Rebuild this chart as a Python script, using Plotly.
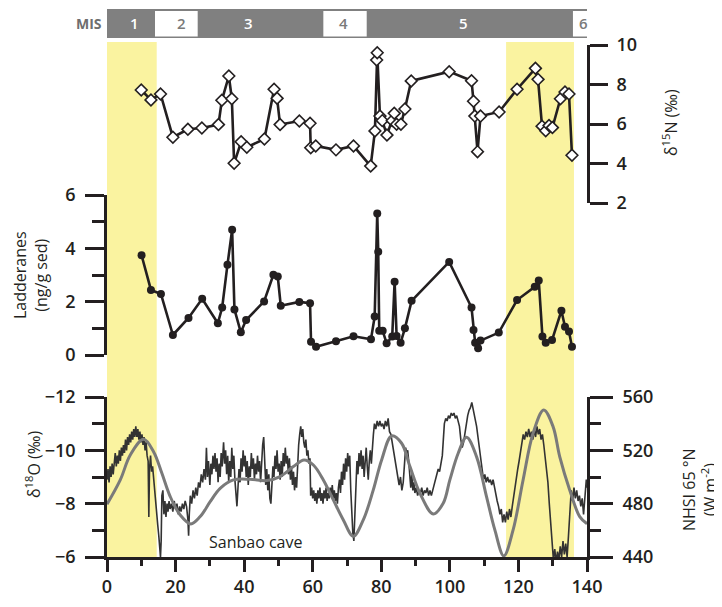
import plotly.graph_objects as go

# ---------------- data ----------------
# delta15N (top panel)
n15_age = [9.99, 12.82, 15.61, 19.22, 23.59, 27.67, 32.51, 33.50, 35.54, 36.41, 37.08, 39.12, 40.78,
           45.91, 48.73, 49.61, 50.48, 56.10, 59.22, 59.42, 60.88, 66.79, 71.9, 76.90, 78.15, 78.65,
           78.82, 79.61, 80.28, 81.65, 83.19, 83.78, 84.47, 85.73, 86.89, 88.73, 99.80, 106.32, 106.90,
           107.28, 108.07, 108.94, 114.36, 119.60, 124.96, 125.72, 126.88, 127.96, 128.92, 129.91,
           132.25, 133.58, 134.75, 135.62]
n15_val = [7.72, 7.22, 7.52, 5.33, 5.73, 5.80, 5.97, 7.20, 8.43, 7.28, 4.01, 5.10, 4.82,
           5.24, 7.76, 7.30, 5.97, 6.15, 6.04, 4.80, 4.89, 4.69, 4.89, 3.87, 5.65, 9.24,
           9.61, 6.40, 6.17, 5.44, 6.17, 6.54, 5.99, 5.99, 6.76, 8.18, 8.65, 8.19, 7.15,
           6.40, 4.60, 6.40, 6.61, 7.76, 8.82, 8.26, 5.89, 5.66, 5.92, 5.82,
           7.28, 7.62, 7.52, 4.42]

# Ladderanes (middle panel)
lad_age = [10.08, 12.82, 15.73, 19.22, 23.77, 27.76, 32.33, 33.59, 35.13, 36.50, 37.17, 39.03, 40.58,
           45.82, 48.53, 49.81, 50.68, 56.10, 59.22, 59.51, 60.97, 66.79, 71.9, 76.99, 78.07, 78.82,
           79.11, 79.40, 80.40, 81.56, 83.19, 83.89, 84.47, 85.64, 86.89, 88.84, 99.80, 106.32, 106.90,
           107.37, 108.24, 108.94, 114.27, 119.60, 124.76, 125.93, 127.00, 127.96, 129.80, 132.54,
           133.58, 134.75, 135.62]
lad_val = [3.74, 2.44, 2.29, 0.75, 1.39, 2.11, 1.19, 1.78, 3.38, 4.70, 1.71, 0.85, 1.31,
           2.01, 3.01, 2.94, 1.85, 1.99, 1.94, 0.50, 0.31, 0.52, 0.70, 0.59, 1.44, 5.31,
           3.87, 0.91, 0.91, 0.44, 0.69, 2.75, 0.71, 0.46, 1.00, 2.03, 3.49, 1.78, 0.94,
           0.46, 0.25, 0.54, 0.84, 2.06, 2.56, 2.79, 0.69, 0.46, 0.56, 1.66,
           1.06, 0.88, 0.31]

# Sanbao cave delta18O (bottom panel, left axis)
o18_age = [0.0, 0.3, 0.6, 0.9, 1.2, 1.5, 1.8, 2.1, 2.4, 2.7, 3.0, 3.3, 3.6, 3.9, 4.2, 4.5, 4.8,
           5.1, 5.4, 5.7, 6.0, 6.3, 6.6, 6.9, 7.2, 7.5, 7.8, 8.1, 8.4, 8.7, 9.0, 9.3, 9.6, 9.9,
           10.2, 10.5, 10.8, 11.1, 11.4, 11.7, 12.0, 12.2, 12.4, 12.7, 13.0, 13.3, 13.6, 13.9,
           14.2, 14.5, 14.8, 15.1, 15.4, 15.6, 15.8, 16.0, 16.3, 16.6, 16.9, 17.2, 17.5, 17.8,
           18.1, 18.4, 18.8, 19.2, 19.6, 20.0, 20.4, 20.8, 21.2, 21.6, 22.0, 22.4, 22.8, 23.2,
           23.6, 23.8, 24.0, 24.3, 24.7, 25.1, 25.5, 25.9, 26.3, 26.7, 27.1, 27.5, 27.9, 28.3,
           28.7, 29.0, 29.3, 29.6, 30.0, 30.3, 30.6, 30.9, 31.2, 31.5, 31.8, 32.1, 32.4, 32.7,
           33.0, 33.3, 33.6, 34.0, 34.3, 34.6, 34.9, 35.2, 35.5, 35.8, 36.1, 36.4, 36.7, 37.0,
           37.3, 37.6, 37.9, 38.2, 38.5, 38.8, 39.1, 39.4, 39.7, 40.0, 40.3, 40.6, 40.9, 41.2,
           41.5, 41.8, 42.1, 42.4, 42.7, 43.0, 43.3, 43.6, 43.9, 44.2, 44.5, 44.8, 45.1, 45.4,
           45.7, 46.0, 46.3, 46.6, 46.9, 47.2, 47.5, 47.8, 48.1, 48.4, 48.7, 49.0, 49.3, 49.6,
           49.9, 50.2, 50.5, 50.8, 51.1, 51.4, 51.7, 52.0, 52.3, 52.6, 52.9, 53.2, 53.5, 53.8,
           54.1, 54.4, 54.7, 55.0, 55.3, 55.6, 55.9, 56.2, 56.5, 56.8, 57.1, 57.4, 57.7, 58.0,
           58.3, 58.6, 58.9, 59.2, 59.4, 59.7, 60.0, 60.3, 60.6, 60.9, 61.2, 61.5, 61.8, 62.1,
           62.4, 62.7, 63.0, 63.3, 63.6, 63.9, 64.2, 64.5, 64.8, 65.1, 65.4, 65.7, 66.0, 66.3,
           66.6, 66.9, 67.2, 67.5, 67.8, 68.1, 68.4, 68.7, 69.0, 69.3, 69.6, 69.9, 70.2, 70.5,
           70.8, 71.1, 71.4, 71.7, 72.0, 72.3, 72.6, 72.9, 73.2, 73.5, 73.8, 74.1, 74.4, 74.7,
           75.0, 75.3, 75.6, 75.9, 76.2, 76.5, 76.8, 77.1, 77.4, 77.7, 78.0, 78.4, 78.8, 79.2,
           79.6, 80.0, 80.4, 80.8, 81.2, 81.6, 82.0, 82.4, 82.8, 83.2, 83.6, 84.0, 84.4, 84.8,
           85.2, 85.6, 86.0, 86.4, 86.8, 87.1, 87.4, 87.7, 88.0, 88.3, 88.6, 88.9, 89.2, 89.5,
           89.8, 90.2, 90.6, 91.0, 91.4, 91.8, 92.2, 92.6, 93.0, 93.4, 93.8, 94.2, 94.6, 95.0,
           95.4, 95.8, 96.2, 96.6, 97.0, 97.4, 97.8, 98.1, 98.4, 98.8, 99.2, 99.6, 100.0, 100.4,
           100.8, 101.2, 101.6, 102.0, 102.4, 102.8, 103.2, 103.6, 104.0, 104.4, 104.8, 105.2,
           105.6, 106.0, 106.4, 106.7, 107.0, 107.4, 107.8, 108.2, 108.6, 109.0, 109.4, 109.8,
           110.2, 110.6, 111.0, 111.4, 111.8, 112.2, 112.6, 113.0, 113.4, 113.8, 114.2, 114.6,
           115.0, 115.4, 115.8, 116.2, 116.6, 117.0, 117.4, 117.8, 118.2, 118.6, 119.0, 119.4,
           119.8, 120.2, 120.6, 121.0, 121.4, 121.8, 122.2, 122.6, 123.0, 123.4, 123.8, 124.2,
           124.6, 125.0, 125.4, 125.8, 126.2, 126.6, 127.0, 127.4, 127.8, 128.2, 128.6, 129.0,
           129.4, 129.8, 130.2, 130.6, 131.0, 131.4, 131.8, 132.2, 132.6, 133.0, 133.4, 133.8,
           134.2, 134.6, 135.0, 135.4, 135.8, 136.2, 136.6, 137.0, 137.4, 137.8, 138.2, 138.6,
           139.0, 139.4, 139.8, 140.0]
o18_val = [-8.9, -9.3, -8.8, -9.4, -9.0, -9.5, -9.1, -9.7, -9.9, -9.4, -9.8, -9.5, -10.0, -9.6, -10.1, -9.8, -10.2,
           -9.9, -10.4, -10.0, -10.5, -10.2, -10.6, -10.3, -10.7, -10.4, -10.8, -10.5, -10.9, -10.5, -10.8, -10.4, -10.7, -10.3,
           -10.6, -10.2, -10.5, -10.0, -10.3, -9.8, -9.6, -7.5, -9.3, -9.8, -9.2, -9.4, -8.9, -8.6,
           -8.0, -7.6, -7.2, -6.8, -6.3, -6.0, -6.6, -8.3, -8.5, -7.6, -8.1, -7.5, -8.0, -7.7,
           -8.1, -7.8, -8.0, -7.7, -8.1, -7.8, -8.0, -7.6, -7.9, -7.7, -8.0, -7.8, -8.1, -7.9,
           -7.4, -6.8, -7.6, -8.3, -8.0, -8.5, -8.2, -8.6, -8.3, -8.8, -8.6, -9.1, -8.8, -9.3,
           -8.9, -10.1, -9.0, -9.6, -8.7, -9.5, -9.1, -9.8, -9.3, -9.9, -9.2, -9.7, -8.8, -9.5,
           -9.0, -9.9, -9.4, -10.3, -9.5, -10.0, -9.1, -9.8, -8.8, -9.6, -9.0, -10.1, -9.3, -9.8,
           -8.9, -8.4, -7.9, -8.6, -9.3, -8.8, -9.7, -9.2, -10.0, -9.4, -9.8, -9.0, -9.6, -8.7,
           -9.4, -9.0, -9.9, -9.3, -9.7, -8.9, -9.5, -9.1, -9.8, -9.2, -9.6, -8.8, -9.7, -10.2,
           -10.5, -9.6, -8.7, -9.3, -8.5, -9.1, -8.2, -8.0, -8.6, -9.4, -9.0, -9.8, -9.3, -10.0,
           -9.2, -9.5, -8.9, -9.6, -9.0, -9.9, -9.4, -10.1, -9.5, -9.8, -9.1, -9.7, -8.9, -9.4,
           -8.7, -9.2, -8.5, -9.0, -8.6, -9.5, -10.2, -10.6, -10.9, -10.5, -10.8, -10.3, -10.1, -10.4,
           -9.8, -10.0, -9.5, -9.7, -8.3, -8.6, -8.2, -8.5, -8.1, -8.4, -8.0, -8.5, -8.2, -8.6,
           -8.1, -8.4, -8.0, -8.5, -8.2, -8.6, -8.1, -8.4, -8.2, -8.6, -8.3, -8.7, -8.2, -8.5,
           -8.1, -8.4, -8.0, -8.6, -8.9, -8.4, -9.2, -8.7, -9.5, -8.9, -9.7, -9.2, -9.9, -9.4,
           -9.8, -8.5, -7.6, -6.9, -6.6, -7.8, -9.0, -9.6, -9.1, -9.9, -9.4, -10.0, -9.3, -9.8,
           -9.0, -9.7, -10.1, -9.4, -8.9, -9.6, -10.0, -9.5, -10.2, -10.6, -11.0, -10.8, -11.1, -10.9,
           -11.1, -10.9, -11.0, -10.8, -11.1, -10.9, -11.2, -10.7, -10.6, -10.3, -10.0, -9.7, -9.3, -9.0,
           -8.7, -9.0, -8.5, -8.8, -9.5, -10.1, -9.9, -10.0, -9.6, -9.0, -8.6, -9.1, -8.5, -8.8,
           -8.4, -8.6, -8.3, -8.5, -8.4, -8.6, -8.3, -8.5, -8.4, -8.6, -8.3, -8.5, -8.3, -8.5,
           -8.7, -8.9, -9.1, -9.3, -9.2, -9.5, -9.8, -10.4, -11.0, -11.2, -11.1, -11.3, -11.2, -11.4,
           -11.3, -11.4, -11.2, -11.3, -11.1, -10.9, -10.4, -10.1, -10.3, -10.7, -11.0, -11.3,
           -11.5, -11.6, -11.8, -11.6, -11.4, -11.2, -10.9, -10.5, -10.1, -9.7, -9.3, -8.9,
           -9.1, -8.8, -9.0, -8.8, -8.9, -8.7, -8.9, -8.6, -8.4, -8.1, -7.9, -7.6,
           -7.8, -7.3, -7.6, -7.3, -7.7, -7.4, -7.8, -7.5, -7.9, -8.3, -8.6, -9.0,
           -9.3, -9.6, -10.0, -10.4, -10.6, -10.4, -10.7, -10.5, -10.8, -10.5, -10.7, -10.4,
           -10.8, -10.5, -10.9, -10.6, -10.8, -10.4, -10.6, -10.2, -9.8, -9.4, -8.8, -8.0,
           -7.2, -6.5, -5.9, -6.3, -5.8, -6.2, -5.9, -6.4, -6.0, -6.6, -6.1, -6.5,
           -6.0, -6.8, -7.9, -8.5, -8.1, -8.6, -8.2, -8.5, -8.1, -8.3, -7.9, -8.2,
           -7.6, -8.4, -8.9, -8.6]

# NHSI 65N insolation (bottom panel, right axis)
ins_age = [0.0, 3.87, 6.79, 10.67, 13.58, 16.01, 18.44, 21.35, 24.46, 27.18, 30.09, 33.0, 36.88,
           41.74, 46.6, 50.48, 54.36, 57.47, 60.19, 63.1, 66.01, 68.93, 71.84, 74.75, 77.67, 80.1,
           83.02, 85.93, 88.36, 91.27, 95.15, 98.06, 100.0, 102.43, 104.86, 107.78, 110.69, 113.12,
           115.73, 118.45, 121.36, 124.27, 127.38, 130.1, 132.04, 134.95, 137.87, 140.0]
ins_val = [479.5, 497.8, 516.5, 528.3, 519.0, 502.8, 485.3, 471.5, 464.8, 470.3, 481.5, 491.5, 497.8,
           498.3, 497.3, 500.3, 507.8, 512.8, 509.0, 497.8, 482.8, 467.8, 455.5, 467.8, 490.3, 512.8,
           530.8, 525.3, 507.8, 487.8, 472.3, 480.3, 497.8, 517.8, 529.8, 515.3, 485.3, 460.3,
           440.8, 460.3, 497.8, 532.8, 550.3, 537.8, 515.3, 490.3, 470.3, 465.0]

# Marine isotope stages
mis_labels = ["1", "2", "3", "4", "5", "6"]
mis_label_x = [7.9, 21.8, 41.4, 69.1, 104.1, 139.1]
mis_white = [(14.0, 26.45), (63.1, 75.75), (135.9, 140.5)]
yellow_bands = [(0.0, 14.5), (116.4, 136.2)]

# x ticks
x_ticks = [0, 20, 40, 60, 80, 100, 120, 140]

# ---------------- figure ----------------
INK = "#231f20"
FONT = "Open Sans"
tickfont = dict(family=FONT, size=18, color=INK, weight=600)

fig = go.Figure()

fig.add_trace(go.Scatter(x=o18_age, y=o18_val, xaxis="x", yaxis="y", mode="lines",
                         line=dict(color="#333333", width=1.6), showlegend=False, hoverinfo="skip"))
fig.add_trace(go.Scatter(x=ins_age, y=ins_val, xaxis="x", yaxis="y2", mode="lines",
                         line=dict(color="#7a7a7a", width=3, shape="spline", smoothing=1.0),
                         showlegend=False, hoverinfo="skip"))
fig.add_trace(go.Scatter(x=lad_age, y=lad_val, xaxis="x", yaxis="y3", mode="lines+markers",
                         line=dict(color=INK, width=2.6),
                         marker=dict(symbol="circle", size=8, color=INK),
                         showlegend=False))
fig.add_trace(go.Scatter(x=n15_age, y=n15_val, xaxis="x", yaxis="y4", mode="lines+markers",
                         line=dict(color=INK, width=2.6),
                         marker=dict(symbol="diamond", size=9, color="white", line=dict(color=INK, width=1.6)),
                         showlegend=False))

axis_common = dict(showgrid=False, zeroline=False, showline=True, linecolor=INK, linewidth=2.6,
                   ticks="outside", tickcolor=INK, tickwidth=2.6, tickfont=tickfont, automargin=False)

# the page body adds an 8px offset; screen positions are compensated through the margins
OFF = 8
W, H = 722, 607
PL, PR, PT, PB = 107, 587, 9, 557          # target plot area on screen
L, T = PL - OFF, PT - OFF
R = W - (PR - OFF)
B = H - (PB - OFF)
ph = PB - PT
pw = PR - PL


def py(pix):
    return (PB - pix) / ph


def px(pix):
    return (pix - PL) / pw


fig.update_layout(
    width=W, height=H,
    margin=dict(l=L, r=R, t=T, b=B, pad=0, autoexpand=False),
    paper_bgcolor="white", plot_bgcolor="rgba(0,0,0,0)",
    xaxis=dict(domain=[0, 1], range=[0, 140], anchor="y", tickvals=x_ticks, ticklen=12,
               minor=dict(dtick=10, tick0=0, ticklen=6, tickwidth=2.6, tickcolor=INK, ticks="outside"),
               ticklabelstandoff=0, **axis_common),
    yaxis=dict(domain=[0, py(397)], range=[-6, -12], anchor="x", side="left",
               tickvals=[-12, -10, -8, -6], ticklen=19, ticklabelstandoff=6,
               minor=dict(dtick=1, tick0=0, ticklen=12, tickwidth=2.6, tickcolor=INK, ticks="outside"),
               **axis_common),
    yaxis2=dict(range=[440, 560], overlaying="y", anchor="x", side="right",
                tickvals=[440, 480, 520, 560], ticklen=23, ticklabelstandoff=6,
                minor=dict(dtick=20, tick0=0, ticklen=11, tickwidth=2.6, tickcolor=INK, ticks="outside"),
                **axis_common),
    yaxis3=dict(domain=[py(355), py(195)], range=[0, 6], anchor="x", side="left",
                tickvals=[0, 2, 4, 6], ticklen=19, ticklabelstandoff=6,
                minor=dict(dtick=1, tick0=0, ticklen=12, tickwidth=2.6, tickcolor=INK, ticks="outside"),
                **axis_common),
    yaxis4=dict(domain=[py(203), py(45)], range=[2, 10], anchor="x", side="right",
                tickvals=[2, 4, 6, 8, 10], ticklen=18, ticklabelstandoff=5,
                **axis_common),
)

shapes = []
for x0, x1 in yellow_bands:
    shapes.append(dict(type="rect", xref="x", yref="paper", x0=x0, x1=x1, y0=0, y1=py(42),
                       fillcolor="#FAF3A0", line=dict(width=0), layer="below"))
# MIS bar
shapes.append(dict(type="rect", xref="x", yref="paper", x0=0, x1=141, y0=py(38), y1=py(9),
                   fillcolor="#808080", line=dict(width=0), layer="above"))
for x0, x1 in mis_white:
    shapes.append(dict(type="rect", xref="x", yref="paper", x0=x0, x1=x1, y0=py(36.5), y1=py(11),
                       fillcolor="white", line=dict(width=0), layer="above"))
fig.update_layout(shapes=shapes)

ann = []
white_idx = {1, 3, 5}
centered = dict(xanchor="center", yanchor="middle", showarrow=False)
for i, (lab, xl) in enumerate(zip(mis_labels, mis_label_x)):
    ann.append(dict(x=xl, y=py(23.5), xref="x", yref="paper", text=lab,
                    font=dict(family=FONT, size=15, weight=600,
                              color="#7a7a7a" if i in white_idx else "white"), **centered))
ann.append(dict(x=px(89), y=py(23.5), xref="paper", yref="paper", text="MIS",
                font=dict(family=FONT, size=14, weight=700, color="#6e6e6e"), **centered))

title_font = dict(family=FONT, size=16, color=INK)
ann.append(dict(x=px(30), y=py(275), xref="paper", yref="paper", text="Ladderanes<br>(ng/g sed)",
                textangle=-90, font=title_font, **centered))
ann.append(dict(x=px(33), y=py(465), xref="paper", yref="paper", text="δ<sup>18</sup>O (‰)",
                textangle=-90, font=title_font, **centered))
ann.append(dict(x=px(670), y=py(123), xref="paper", yref="paper", text="δ<sup>15</sup>N (‰)",
                textangle=-90, font=title_font, **centered))
ann.append(dict(x=px(699), y=py(490), xref="paper", yref="paper", text="NHSI 65 °N<br>(W m<sup>-2</sup>)",
                textangle=-90, font=title_font, **centered))
ann.append(dict(x=px(255), y=py(542), xref="paper", yref="paper", text="Sanbao cave",
                font=dict(family=FONT, size=16, color=INK), **centered))
fig.update_layout(annotations=ann)

fig.write_html("out.html")
